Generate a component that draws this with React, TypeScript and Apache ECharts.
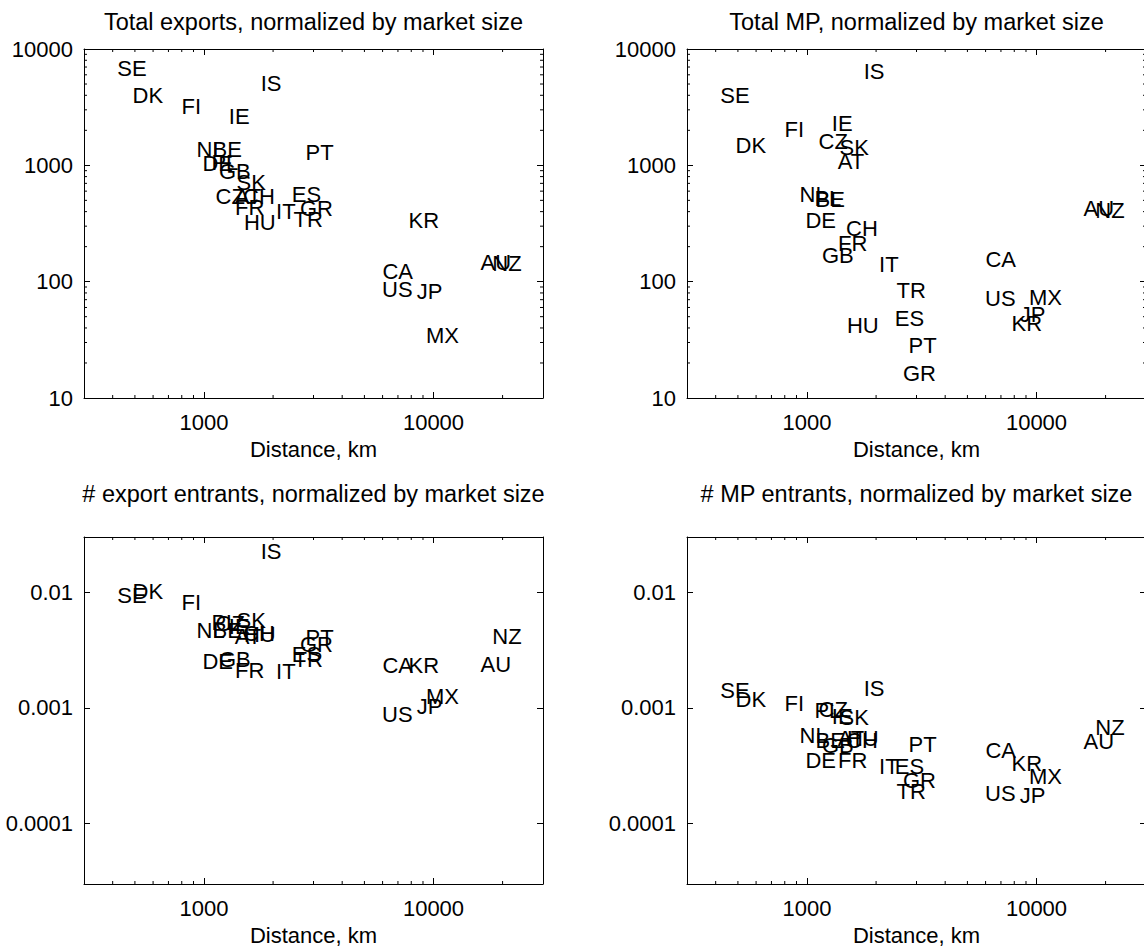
import React, { useEffect, useRef } from 'react';
import * as echarts from 'echarts';

// ---------- data ----------
const countries = ['SE', 'DK', 'FI', 'IS', 'IE', 'NL', 'BE', 'PL', 'DE', 'GB', 'CZ', 'SK', 'AT', 'FR', 'CH', 'HU', 'IT', 'ES', 'TR', 'GR', 'PT', 'CA', 'US', 'KR', 'JP', 'MX', 'AU', 'NZ'];
const distanceKm = [417, 486, 794, 1758, 1276, 923, 1084, 1072, 980, 1156, 1117, 1380, 1355, 1358, 1472, 1486, 2051, 2399, 2443, 2606, 2754, 5960, 5940, 7745, 8414, 9226, 15960, 17950];
const totalExports = [6750, 4020, 3210, 5020, 2640, 1378, 1378, 1062, 1034, 877, 543, 716, 543, 435, 543, 321, 404, 565, 339, 429, 1285, 123, 85.5, 337, 82, 34.7, 147, 143];
const totalMP = [3960, 1492, 2018, 6400, 2300, 565, 505, 515, 334, 167, 1614, 1416, 1075, 211, 286, 42.1, 141.6, 48, 83.8, 16.3, 28.4, 154, 71.6, 43.8, 51.9, 73.4, 427, 406];
const exportEntrants = [0.00937, 0.01007, 0.0081, 0.0224, 0.00502, 0.00464, 0.00464, 0.00543, 0.00252, 0.0026, 0.00532, 0.00565, 0.00412, 0.00211, 0.00437, 0.00428, 0.00207, 0.00288, 0.00264, 0.0035, 0.00408, 0.00232, 0.000877, 0.00232, 0.00103, 0.00126, 0.00239, 0.0041];
const mpEntrants = [0.001425, 0.001186, 0.0011, 0.001462, 0.000843, 0.000577, 0.000522, 0.000948, 0.000352, 0.000473, 0.000975, 0.000822, 0.00054, 0.000352, 0.000522, 0.00054, 0.000311, 0.000311, 0.000189, 0.000236, 0.00048, 0.000432, 0.000183, 0.000332, 0.000173, 0.000256, 0.000512, 0.000675];

const panelTitles = [
  'Total exports, normalized by market size',
  'Total MP, normalized by market size',
  '# export entrants, normalized by market size',
  '# MP entrants, normalized by market size',
];
const xAxisName = 'Distance, km';
const xTickLabels = ['1000', '10000'];
const yTickLabelsTop = ['10', '100', '1000', '10000'];
const yTickLabelsBottom = ['0.0001', '0.001', '0.01'];
const xMinorTicks = [400, 500, 600, 700, 800, 900, 2000, 3000, 4000, 5000, 6000, 7000, 8000, 9000, 20000];
const yMinorTicksTop = [20, 30, 40, 50, 60, 70, 80, 90, 200, 300, 400, 500, 600, 700, 800, 900, 2000, 3000, 4000, 5000, 6000, 7000, 8000, 9000];
const yMinorTicksBottom: number[] = [];
const xRange = [300, 30000];
const yRangeTop = [10, 10000];
const yRangeBottom = [3e-5, 0.03];

// ---------- layout / style ----------
const FONT = "'Liberation Sans', Arial, Helvetica, sans-serif";
const FS = 22;
const grids = [
  { left: 84, top: 49, width: 459, height: 349 },
  { left: 687, top: 49, width: 459, height: 349 },
  { left: 84, top: 537, width: 459, height: 352 },
  { left: 687, top: 537, width: 459, height: 352 },
];
const titleY = [22, 22, 494, 494];

const panels = [
  { values: totalExports, yRange: yRangeTop, yLabels: yTickLabelsTop, yMinor: yMinorTicksTop },
  { values: totalMP, yRange: yRangeTop, yLabels: yTickLabelsTop, yMinor: yMinorTicksTop },
  { values: exportEntrants, yRange: yRangeBottom, yLabels: yTickLabelsBottom, yMinor: yMinorTicksBottom },
  { values: mpEntrants, yRange: yRangeBottom, yLabels: yTickLabelsBottom, yMinor: yMinorTicksBottom },
];

const labelFormatter = (labels: string[]) => (v: number) => {
  const lv = Math.log10(v);
  const hit = labels.find((s) => Math.abs(Math.log10(Number(s)) - lv) < 1e-6);
  return hit ?? '';
};

const axisCommon = {
  type: 'log' as const,
  logBase: 10,
  splitLine: { show: false },
  minorTick: { show: false },
  axisLine: { show: true, onZero: false, lineStyle: { color: '#000', width: 1 } },
  axisTick: { show: true, inside: true, length: 6, lineStyle: { color: '#000', width: 1 } },
};

function buildOption() {
  const xAxis: any[] = [];
  const yAxis: any[] = [];
  const series: any[] = [];

  panels.forEach((p, i) => {
    xAxis.push({
      ...axisCommon,
      gridIndex: i,
      position: 'bottom',
      min: xRange[0],
      max: xRange[1],
      name: xAxisName,
      nameLocation: 'middle',
      nameGap: 40,
      nameTextStyle: { fontSize: FS, color: '#000', fontFamily: FONT },
      axisLabel: { show: true, margin: 13, fontSize: FS, color: '#000', fontFamily: FONT, formatter: labelFormatter(xTickLabels) },
    });
    xAxis.push({
      ...axisCommon,
      gridIndex: i,
      position: 'top',
      min: xRange[0],
      max: xRange[1],
      axisLabel: { show: false },
    });
    yAxis.push({
      ...axisCommon,
      gridIndex: i,
      position: 'left',
      min: p.yRange[0],
      max: p.yRange[1],
      axisLabel: { show: true, margin: 11, fontSize: FS, color: '#000', fontFamily: FONT, formatter: labelFormatter(p.yLabels) },
    });
    yAxis.push({
      ...axisCommon,
      gridIndex: i,
      position: 'right',
      min: p.yRange[0],
      max: p.yRange[1],
      axisLabel: { show: false },
    });

    // country labels
    series.push({
      type: 'scatter',
      xAxisIndex: 2 * i,
      yAxisIndex: 2 * i,
      symbol: 'circle',
      symbolSize: 1,
      silent: true,
      itemStyle: { color: 'rgba(0,0,0,0)', opacity: 1 },
      label: {
        show: true,
        position: 'right',
        distance: 0,
        formatter: '{b}',
        fontSize: FS,
        color: '#000',
        opacity: 1,
        fontFamily: FONT,
      },
      emphasis: { disabled: true },
      data: countries.map((c, k) => ({ name: c, value: [distanceKm[k], p.values[k]] })),
      z: 5,
    });

    // minor x ticks (bottom & top)
    series.push({
      type: 'custom',
      xAxisIndex: 2 * i,
      yAxisIndex: 2 * i,
      silent: true,
      data: xMinorTicks.map((v) => [v, p.yRange[0]]),
      renderItem: (params: any, api: any) => {
        const pt = api.coord([api.value(0), api.value(1)]);
        const cs = params.coordSys;
        const yb = cs.y + cs.height;
        return {
          type: 'group',
          children: [
            { type: 'line', shape: { x1: pt[0], y1: yb, x2: pt[0], y2: yb - 3 }, style: { stroke: '#000', lineWidth: 1 } },
            { type: 'line', shape: { x1: pt[0], y1: cs.y, x2: pt[0], y2: cs.y + 3 }, style: { stroke: '#000', lineWidth: 1 } },
          ],
        };
      },
    });

    if (p.yMinor.length) {
      series.push({
        type: 'custom',
        xAxisIndex: 2 * i,
        yAxisIndex: 2 * i,
        silent: true,
        data: p.yMinor.map((v) => [xRange[0], v]),
        renderItem: (params: any, api: any) => {
          const pt = api.coord([api.value(0), api.value(1)]);
          const cs = params.coordSys;
          const xr = cs.x + cs.width;
          return {
            type: 'group',
            children: [
              { type: 'line', shape: { x1: cs.x, y1: pt[1], x2: cs.x + 3, y2: pt[1] }, style: { stroke: '#000', lineWidth: 1 } },
              { type: 'line', shape: { x1: xr, y1: pt[1], x2: xr - 3, y2: pt[1] }, style: { stroke: '#000', lineWidth: 1 } },
            ],
          };
        },
      });
    }
  });

  const graphic = panelTitles.map((t, i) => ({
    type: 'text',
    x: grids[i].left + grids[i].width / 2,
    y: titleY[i],
    silent: true,
    style: {
      text: t,
      fill: '#000',
      fontSize: 23.5,
      fontFamily: FONT,
      align: 'center',
      verticalAlign: 'middle',
      textAlign: 'center',
      textVerticalAlign: 'middle',
    },
  }));

  return {
    animation: false,
    backgroundColor: '#fff',
    grid: grids.map((g) => ({ ...g, containLabel: false })),
    xAxis,
    yAxis,
    series,
    graphic,
  };
}

export default function App() {
  const ref = useRef<HTMLDivElement>(null);
  useEffect(() => {
    if (!ref.current) return;
    const chart = echarts.init(ref.current, undefined, { renderer: 'svg' });
    chart.setOption(buildOption() as any);
    return () => chart.dispose();
  }, []);
  return (
    <div style={{ position: 'fixed', left: 0, top: 0, width: 1144, height: 947, overflow: 'hidden', background: '#fff' }}>
      <div ref={ref} style={{ width: 1150, height: 947 }} />
    </div>
  );
}
